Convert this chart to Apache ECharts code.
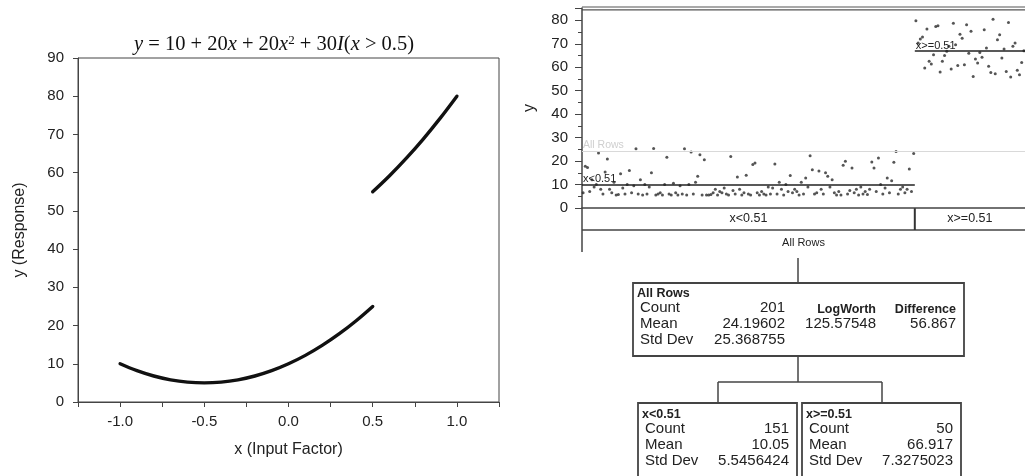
<!DOCTYPE html>
<html><head><meta charset="utf-8">
<script src="https://cdn.jsdelivr.net/npm/echarts@6/dist/echarts.min.js"></script>
<style>html,body{margin:0;padding:0;background:#fff}#c{width:1025px;height:476px}</style>
</head><body><div id="c"></div>
<script>
// ---- Left panel: the function curve
const curveX1 = [-1.0,-0.9,-0.8,-0.7,-0.6,-0.5,-0.4,-0.3,-0.2,-0.1,0.0,0.1,0.2,0.3,0.4,0.5];
const curveY1 = [10.0,8.2,6.8,5.8,5.2,5.0,5.2,5.8,6.8,8.2,10.0,12.2,14.8,17.8,21.2,25.0];
const curveX2 = [0.5,0.6,0.7,0.8,0.9,1.0];
const curveY2 = [55.0,59.2,63.8,68.8,74.2,80.0];

// ---- Right panel: partition plot points (row order within each leaf)
const leftY = [6.5,17.8,17.3,7,12,9,10,23.4,8,6,15.3,20.9,8,6.5,11,5.5,5.8,14.6,8.5,6,
 10,16,6.5,9.5,25.3,6,12,5.5,10,6,9,15,25.4,5.5,6,6.5,5.5,10,21.6,6,
 5.5,10.5,6.5,5.5,9.5,6,25.3,5.5,10,23.9,6,11,13.5,22.7,5.5,20.6,5.5,5.5,5.8,6.5,
 8,5.5,7,6.5,8.5,6,5.5,22,7.5,6,13.2,8,5.5,6.5,14,6,5.5,18.5,19.2,6.5,
 5.5,7,6,5.5,9,6,8.5,18.8,6,11,8,5.5,10,7,13.8,6.5,8,7,5.5,11,
 6,12.8,9,22.3,16.3,6,6.5,15.8,8,6,15,13.5,9,12,6.5,5.5,7,5.5,18.2,19.9,
 6,7.5,17,6.5,8,5.5,9,6,7,5.8,8,19.6,17,7,21.3,10,6,8.5,12.8,6.5,
 11.6,19.5,24.1,6,8,9,6.5,8,16.6,7,23.2];
const rightY = [79.8,70.3,72,72.9,59.7,76.3,62.5,61.4,65.3,77.4,77.7,58,62.5,65,66.8,68.9,59.2,78.8,69.6,60.7,
 74.1,72.4,61.1,78.1,66,75.3,56.1,63.5,61.8,66.3,64.3,76,68.2,60.4,57.8,80.5,57.2,71.7,73.9,63.9,
 67.8,58.2,79.1,55.8,68.9,70.3,58.7,56.8,62,67];

// ---- Tree statistics
const nodeNames = ['All Rows','x<0.51','x>=0.51'];
const nodeCounts = ['201','151','50'];
const nodeMeans = ['24.19602','10.05','66.917'];
const nodeStd = ['25.368755','5.5456424','7.3275023'];
const meanValues = [24.19602, 10.05, 66.917];
const logWorth = '125.57548';
const difference = '56.867';

const chart = echarts.init(document.getElementById('c'), null, {renderer:'canvas'});
const nL = leftY.length, nR = rightY.length, nAll = nL + nR;
const lineMeans = {
  symbol:['none','none'], silent:true, animation:false,
  data:[
    [{coord:[0,meanValues[0]], lineStyle:{color:'#d9d9d9',width:1,type:'solid'},
      label:{formatter:nodeNames[0], position:'insideStartTop', color:'#cfcfcf', fontSize:10.5, distance:[1,1]}},
     {coord:[nAll,meanValues[0]]}],
    [{coord:[0,meanValues[1]], lineStyle:{color:'#222',width:1.5,type:'solid'},
      label:{formatter:nodeNames[1], position:'insideStartTop', color:'#222', fontSize:11, distance:[1,0]}},
     {coord:[nL,meanValues[1]]}],
    [{coord:[nL,meanValues[2]], lineStyle:{color:'#222',width:1.5,type:'solid'},
      label:{formatter:nodeNames[2], position:'insideStartTop', color:'#222', fontSize:11, distance:[1,0]}},
     {coord:[nAll,meanValues[2]]}]
  ]
};

chart.setOption({
  animation:false,
  textStyle:{fontFamily:'Liberation Sans, Arial, sans-serif'},
  grid:[
    {left:78, top:58, width:421, height:344, show:true, borderColor:'#444', borderWidth:1},
    {left:582, top:8, width:445, height:200, show:false}
  ],
  xAxis:[
    {gridIndex:0, type:'value', min:-1.25, max:1.25, interval:0.25,
     axisLine:{onZero:false, lineStyle:{color:'#444'}}, axisTick:{show:true, length:5, lineStyle:{color:'#444'}},
     splitLine:{show:false},
     axisLabel:{color:'#222', fontSize:15, margin:12,
       formatter:v=>{const d=v*2; if(Math.abs(d-Math.round(d))<1e-6 && Math.abs(v)<=1.0001) return v.toFixed(1); return '';}},
     name:'x (Input Factor)', nameLocation:'middle', nameGap:40, nameTextStyle:{color:'#222', fontSize:16}},
    {gridIndex:1, type:'value', min:0, max:nAll, show:true,
     axisLine:{show:true, onZero:false, lineStyle:{color:'#444', width:1.5}}, axisTick:{show:false}, axisLabel:{show:false}, splitLine:{show:false}}
  ],
  yAxis:[
    {gridIndex:0, type:'value', min:0, max:90, interval:10,
     axisLine:{show:true, onZero:false, lineStyle:{color:'#444'}}, axisTick:{show:true, length:5, lineStyle:{color:'#444'}},
     splitLine:{show:false},
     axisLabel:{color:'#222', fontSize:15, margin:14},
     name:'y (Response)', nameLocation:'middle', nameGap:50, nameTextStyle:{color:'#222', fontSize:16}},
    {gridIndex:1, type:'value', min:0, max:85.25, interval:10,
     axisLine:{show:true, onZero:false, lineStyle:{color:'#444', width:1.5}},
     axisTick:{show:true, length:7, lineStyle:{color:'#444'}},
     minorTick:{show:true, splitNumber:2, length:4, lineStyle:{color:'#444'}},
     splitLine:{show:false}, minorSplitLine:{show:false},
     axisLabel:{color:'#222', fontSize:15, margin:14, showMaxLabel:false,
       formatter:v=>(Math.abs(v%10)<1e-6?String(v):'')},
     name:'y', nameLocation:'middle', nameGap:44, nameTextStyle:{color:'#222', fontSize:16}}
  ],
  series:[
    {type:'line', xAxisIndex:0, yAxisIndex:0, data:curveX1.map((x,i)=>[x,curveY1[i]]), smooth:0.4,
     showSymbol:false, lineStyle:{color:'#111', width:3.4, cap:'round'}},
    {type:'line', xAxisIndex:0, yAxisIndex:0, data:curveX2.map((x,i)=>[x,curveY2[i]]), smooth:0.4,
     showSymbol:false, lineStyle:{color:'#111', width:3.4, cap:'round'}},
    {type:'scatter', xAxisIndex:1, yAxisIndex:1, symbolSize:3, itemStyle:{color:'#2a2a2a'},
     data:leftY.map((y,i)=>[i+0.5,y]).concat(rightY.map((y,i)=>[nL+i+0.5,y])),
     markLine:lineMeans}
  ]
});

// Positions derived from the partition axes
const p0 = chart.convertToPixel({xAxisIndex:1, yAxisIndex:1}, [0,0]);
const pS = chart.convertToPixel({xAxisIndex:1, yAxisIndex:1}, [nL,0]);
const pE = chart.convertToPixel({xAxisIndex:1, yAxisIndex:1}, [nAll,0]);
const x0 = p0[0], xs = pS[0], xe = pE[0], yb = p0[1];
const rowB = yb + 22;
const L = (x1,y1,x2,y2,w,c)=>({type:'line', shape:{x1,y1,x2,y2}, style:{stroke:c||'#444', lineWidth:w||1.5}, silent:true});
const T = (x,y,text,opt)=>Object.assign({type:'text', x, y, silent:true,
  style:Object.assign({text, fill:'#222', font:'15px "Liberation Sans", Arial, sans-serif', textVerticalAlign:'middle'}, opt||{})});
const bold = '700 12.5px "Liberation Sans", Arial, sans-serif';
const small = '12.5px "Liberation Sans", Arial, sans-serif';

const g = [
  {type:'text', x:274, y:45, silent:true, style:{
    text:'{i|y} = 10 + 20{i|x} + 20{i|x}{s|2} + 30{i|I}({i|x} > 0.5)',
    font:'20.5px "Liberation Serif", "Times New Roman", serif', fill:'#111', textAlign:'center', textVerticalAlign:'middle',
    rich:{i:{fontStyle:'italic', fontSize:20.5, fontFamily:'Liberation Serif'}, s:{fontSize:13, fontFamily:'Liberation Serif', padding:[0,0,9,0], verticalAlign:'bottom'}}}},
  L(x0, 7, 1025, 7, 1.2, '#555'), L(x0, 9.8, 1025, 9.8, 1.2, '#555'),
  L(x0, yb, x0, yb+44, 1.5),
  L(x0, rowB, 1025, rowB, 1.5),
  L(xs, yb, xs, rowB, 2, '#333'),
  T((x0+xs)/2, yb+11, nodeNames[1], {textAlign:'center', font:small}),
  T((xs+xe)/2, yb+11, nodeNames[2], {textAlign:'center', font:small}),
  T((x0+xe)/2, yb+35, nodeNames[0], {textAlign:'center', font:'11px "Liberation Sans", Arial, sans-serif'}),
  L(798, 258, 798, 283, 1.5),
  L(798, 356, 798, 382, 1.5),
  L(718, 382, 882, 382, 1.5),
  L(718, 382, 718, 403, 1.5),
  L(882, 382, 882, 403, 1.5),
  {type:'rect', shape:{x:633, y:283, width:331, height:73}, style:{fill:'none', stroke:'#444', lineWidth:1.8}, silent:true},
  {type:'rect', shape:{x:638, y:403, width:159, height:85}, style:{fill:'none', stroke:'#444', lineWidth:1.8}, silent:true},
  {type:'rect', shape:{x:802, y:403, width:159, height:85}, style:{fill:'none', stroke:'#444', lineWidth:1.8}, silent:true},
  T(637, 294, nodeNames[0], {font:bold}),
  T(640, 308, 'Count'), T(640, 324, 'Mean'), T(640, 340, 'Std Dev'),
  T(785, 308, nodeCounts[0], {textAlign:'right'}),
  T(785, 324, nodeMeans[0], {textAlign:'right'}),
  T(785, 340, nodeStd[0], {textAlign:'right'}),
  T(876, 310, 'LogWorth', {textAlign:'right', font:bold}),
  T(876, 324, logWorth, {textAlign:'right'}),
  T(956, 310, 'Difference', {textAlign:'right', font:bold}),
  T(956, 324, difference, {textAlign:'right'}),
  T(642, 415, nodeNames[1], {font:bold}),
  T(645, 429, 'Count'), T(645, 445, 'Mean'), T(645, 461, 'Std Dev'),
  T(789, 429, nodeCounts[1], {textAlign:'right'}),
  T(789, 445, nodeMeans[1], {textAlign:'right'}),
  T(789, 461, nodeStd[1], {textAlign:'right'}),
  T(806, 415, nodeNames[2], {font:bold}),
  T(809, 429, 'Count'), T(809, 445, 'Mean'), T(809, 461, 'Std Dev'),
  T(953, 429, nodeCounts[2], {textAlign:'right'}),
  T(953, 445, nodeMeans[2], {textAlign:'right'}),
  T(953, 461, nodeStd[2], {textAlign:'right'})
];
chart.setOption({graphic:g});
</script></body></html>
